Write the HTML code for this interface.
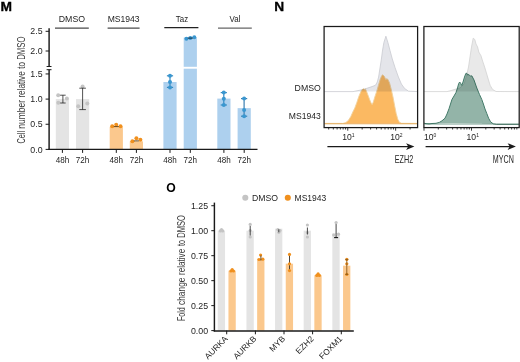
<!DOCTYPE html>
<html lang="en">
<head>
<meta charset="utf-8">
<title>Figure panels M, N, O</title>
<style>
html,body{margin:0;padding:0;background:#fff;}
body{width:520px;height:362px;overflow:hidden;}
svg{display:block;font-family:"Liberation Sans",sans-serif;}
</style>
</head>
<body>
<svg width="520" height="362" viewBox="0 0 520 362">
<rect x="0" y="0" width="520" height="362" fill="#ffffff"/>
<text x="0.5" y="10.7" font-size="12.6" text-anchor="start" fill="#000" textLength="11.5" lengthAdjust="spacingAndGlyphs" font-weight="bold" stroke="#000" stroke-width="0.3">M</text>
<text transform="translate(25.0,0) rotate(-90)" y="0" font-size="10.3" fill="#3a3a3a"><tspan x="-143.6" textLength="12.7" lengthAdjust="spacingAndGlyphs">Cell</tspan> <tspan x="-128.7" textLength="28.7" lengthAdjust="spacingAndGlyphs">number</tspan> <tspan x="-97.6" textLength="26.3" lengthAdjust="spacingAndGlyphs">relative</tspan> <tspan x="-68.7" textLength="6.7" lengthAdjust="spacingAndGlyphs">to</tspan> <tspan x="-59.8" textLength="23.2" lengthAdjust="spacingAndGlyphs">DMSO</tspan></text>
<rect x="55.8" y="99.1" width="13.2" height="50.3" fill="#e4e4e4"/>
<rect x="76.0" y="99.1" width="13.2" height="50.3" fill="#e4e4e4"/>
<rect x="109.7" y="126.77" width="13.2" height="22.63" fill="#fbc88d"/>
<rect x="129.8" y="141.35" width="13.2" height="8.05" fill="#fbc88d"/>
<rect x="163.4" y="82.0" width="13.2" height="67.4" fill="#add0ee"/>
<rect x="183.7" y="37.6" width="13.2" height="111.8" fill="#add0ee"/>
<rect x="217.3" y="98.6" width="13.2" height="50.8" fill="#add0ee"/>
<rect x="237.6" y="108.15" width="13.2" height="41.25" fill="#add0ee"/>
<rect x="183" y="66.8" width="15" height="1.9" fill="#fff"/>
<circle cx="58.2" cy="95.2" r="2.0" fill="#c4c4c4"/>
<circle cx="66.9" cy="98.6" r="2.0" fill="#c4c4c4"/>
<circle cx="58.3" cy="102.8" r="2.0" fill="#c4c4c4"/>
<line x1="62.9" y1="95.2" x2="62.9" y2="103.0" stroke="#1a1a1a" stroke-width="0.75" />
<line x1="60.15" y1="95.2" x2="65.65" y2="95.2" stroke="#1a1a1a" stroke-width="0.75" />
<line x1="60.15" y1="103.0" x2="65.65" y2="103.0" stroke="#1a1a1a" stroke-width="0.75" />
<circle cx="82.6" cy="86.5" r="2.0" fill="#c4c4c4"/>
<circle cx="87.3" cy="103.5" r="2.0" fill="#c4c4c4"/>
<circle cx="78.2" cy="106.3" r="2.0" fill="#c4c4c4"/>
<line x1="82.6" y1="88.2" x2="82.6" y2="109.6" stroke="#1a1a1a" stroke-width="0.75" />
<line x1="79.3" y1="88.2" x2="85.89999999999999" y2="88.2" stroke="#1a1a1a" stroke-width="0.75" />
<line x1="79.3" y1="109.6" x2="85.89999999999999" y2="109.6" stroke="#1a1a1a" stroke-width="0.75" />
<circle cx="112.2" cy="126.2" r="2.0" fill="#f0901e"/>
<circle cx="116.2" cy="124.8" r="2.0" fill="#f0901e"/>
<circle cx="120.5" cy="126.2" r="2.0" fill="#f0901e"/>
<line x1="113.8" y1="126.6" x2="118.8" y2="126.6" stroke="#5a3a10" stroke-width="0.9" />
<circle cx="132.4" cy="141.3" r="2.0" fill="#f0901e"/>
<circle cx="136.4" cy="138.3" r="2.0" fill="#f0901e"/>
<circle cx="140.4" cy="139.8" r="2.0" fill="#f0901e"/>
<line x1="133.9" y1="140.9" x2="138.9" y2="140.9" stroke="#5a3a10" stroke-width="0.9" />
<line x1="170.0" y1="75.8" x2="170.0" y2="87.4" stroke="#3388c0" stroke-width="1.2" />
<line x1="166.9" y1="75.8" x2="173.1" y2="75.8" stroke="#3388c0" stroke-width="1.2" />
<line x1="166.9" y1="87.4" x2="173.1" y2="87.4" stroke="#3388c0" stroke-width="1.2" />
<circle cx="170.0" cy="75.8" r="2.0" fill="#3a97d0"/>
<circle cx="170.0" cy="81.9" r="2.0" fill="#3a97d0"/>
<circle cx="170.0" cy="87.4" r="2.0" fill="#3a97d0"/>
<circle cx="186.4" cy="38.7" r="2.0" fill="#3a97d0"/>
<circle cx="190.3" cy="38.0" r="2.0" fill="#3a97d0"/>
<circle cx="194.3" cy="37.3" r="2.0" fill="#3a97d0"/>
<line x1="187.8" y1="38.1" x2="192.8" y2="38.1" stroke="#123" stroke-width="0.9" />
<line x1="223.8" y1="92.6" x2="223.8" y2="105.0" stroke="#3388c0" stroke-width="1.2" />
<line x1="220.70000000000002" y1="92.6" x2="226.9" y2="92.6" stroke="#3388c0" stroke-width="1.2" />
<line x1="220.70000000000002" y1="105.0" x2="226.9" y2="105.0" stroke="#3388c0" stroke-width="1.2" />
<circle cx="223.8" cy="92.6" r="2.0" fill="#3a97d0"/>
<circle cx="223.8" cy="98.8" r="2.0" fill="#3a97d0"/>
<circle cx="223.8" cy="105.0" r="2.0" fill="#3a97d0"/>
<line x1="244.1" y1="98.6" x2="244.1" y2="116.2" stroke="#3b7fb0" stroke-width="1.2" />
<line x1="241.0" y1="98.6" x2="247.2" y2="98.6" stroke="#3b7fb0" stroke-width="1.2" />
<line x1="241.0" y1="116.2" x2="247.2" y2="116.2" stroke="#3b7fb0" stroke-width="1.2" />
<circle cx="244.1" cy="98.6" r="2.0" fill="#3a97d0"/>
<circle cx="244.1" cy="110.0" r="2.0" fill="#3a97d0"/>
<circle cx="244.1" cy="116.2" r="2.0" fill="#3a97d0"/>
<line x1="49.1" y1="28.2" x2="49.1" y2="66.5" stroke="#1a1a1a" stroke-width="1.45" />
<line x1="49.1" y1="69.7" x2="49.1" y2="150.1" stroke="#1a1a1a" stroke-width="1.45" />
<line x1="46.6" y1="66.5" x2="51.5" y2="66.5" stroke="#1a1a1a" stroke-width="1.0" />
<line x1="46.6" y1="69.7" x2="51.5" y2="69.7" stroke="#1a1a1a" stroke-width="1.0" />
<line x1="48.4" y1="149.4" x2="257.5" y2="149.4" stroke="#1a1a1a" stroke-width="1.4" />
<line x1="45.6" y1="31.3" x2="49.1" y2="31.3" stroke="#1a1a1a" stroke-width="1.0" />
<text x="42.6" y="34.4" font-size="8.8" text-anchor="end" fill="#242424" >2.5</text>
<line x1="45.6" y1="51.0" x2="49.1" y2="51.0" stroke="#1a1a1a" stroke-width="1.0" />
<text x="42.6" y="54.1" font-size="8.8" text-anchor="end" fill="#242424" >2.0</text>
<line x1="45.6" y1="73.95" x2="49.1" y2="73.95" stroke="#1a1a1a" stroke-width="1.0" />
<text x="42.6" y="77.05" font-size="8.8" text-anchor="end" fill="#242424" >1.5</text>
<line x1="45.6" y1="99.1" x2="49.1" y2="99.1" stroke="#1a1a1a" stroke-width="1.0" />
<text x="42.6" y="102.2" font-size="8.8" text-anchor="end" fill="#242424" >1.0</text>
<line x1="45.6" y1="124.25" x2="49.1" y2="124.25" stroke="#1a1a1a" stroke-width="1.0" />
<text x="42.6" y="127.35" font-size="8.8" text-anchor="end" fill="#242424" >0.5</text>
<line x1="45.6" y1="149.4" x2="49.1" y2="149.4" stroke="#1a1a1a" stroke-width="1.0" />
<text x="42.6" y="152.5" font-size="8.8" text-anchor="end" fill="#242424" >0.0</text>
<line x1="62.4" y1="149.4" x2="62.4" y2="152.9" stroke="#1a1a1a" stroke-width="1.0" />
<line x1="82.6" y1="149.4" x2="82.6" y2="152.9" stroke="#1a1a1a" stroke-width="1.0" />
<line x1="116.3" y1="149.4" x2="116.3" y2="152.9" stroke="#1a1a1a" stroke-width="1.0" />
<line x1="136.4" y1="149.4" x2="136.4" y2="152.9" stroke="#1a1a1a" stroke-width="1.0" />
<line x1="170.0" y1="149.4" x2="170.0" y2="152.9" stroke="#1a1a1a" stroke-width="1.0" />
<line x1="190.3" y1="149.4" x2="190.3" y2="152.9" stroke="#1a1a1a" stroke-width="1.0" />
<line x1="223.9" y1="149.4" x2="223.9" y2="152.9" stroke="#1a1a1a" stroke-width="1.0" />
<line x1="244.2" y1="149.4" x2="244.2" y2="152.9" stroke="#1a1a1a" stroke-width="1.0" />
<text x="62.4" y="163.2" font-size="8.8" text-anchor="middle" fill="#242424" textLength="13.5" lengthAdjust="spacingAndGlyphs" >48h</text>
<text x="82.6" y="163.2" font-size="8.8" text-anchor="middle" fill="#242424" textLength="13.5" lengthAdjust="spacingAndGlyphs" >72h</text>
<text x="116.3" y="163.2" font-size="8.8" text-anchor="middle" fill="#242424" textLength="13.5" lengthAdjust="spacingAndGlyphs" >48h</text>
<text x="136.4" y="163.2" font-size="8.8" text-anchor="middle" fill="#242424" textLength="13.5" lengthAdjust="spacingAndGlyphs" >72h</text>
<text x="170.0" y="163.2" font-size="8.8" text-anchor="middle" fill="#242424" textLength="13.5" lengthAdjust="spacingAndGlyphs" >48h</text>
<text x="190.3" y="163.2" font-size="8.8" text-anchor="middle" fill="#242424" textLength="13.5" lengthAdjust="spacingAndGlyphs" >72h</text>
<text x="223.9" y="163.2" font-size="8.8" text-anchor="middle" fill="#242424" textLength="13.5" lengthAdjust="spacingAndGlyphs" >48h</text>
<text x="244.2" y="163.2" font-size="8.8" text-anchor="middle" fill="#242424" textLength="13.5" lengthAdjust="spacingAndGlyphs" >72h</text>
<line x1="55" y1="28.1" x2="88.8" y2="28.1" stroke="#4a4a4a" stroke-width="1.4" />
<text x="71.9" y="22.1" font-size="9.0" text-anchor="middle" fill="#242424" textLength="26.3" lengthAdjust="spacingAndGlyphs" >DMSO</text>
<line x1="107.6" y1="28.1" x2="139.6" y2="28.1" stroke="#4a4a4a" stroke-width="1.4" />
<text x="123.6" y="22.1" font-size="9.0" text-anchor="middle" fill="#242424" textLength="31.9" lengthAdjust="spacingAndGlyphs" >MS1943</text>
<line x1="164.3" y1="27.6" x2="198.4" y2="27.6" stroke="#222222" stroke-width="1.05" />
<text x="181.95" y="22.1" font-size="9.0" text-anchor="middle" fill="#242424" textLength="12.3" lengthAdjust="spacingAndGlyphs" >Taz</text>
<line x1="218" y1="28.1" x2="251.8" y2="28.1" stroke="#666666" stroke-width="1.4" />
<text x="234.9" y="22.1" font-size="9.0" text-anchor="middle" fill="#242424" textLength="10.9" lengthAdjust="spacingAndGlyphs" >Val</text>
<text x="274.3" y="10.7" font-size="12.6" text-anchor="start" fill="#000" textLength="9.9" lengthAdjust="spacingAndGlyphs" font-weight="bold" stroke="#000" stroke-width="0.3">N</text>
<clipPath id="c1"><rect x="324.1" y="26.5" width="93.5" height="101.1"/></clipPath>
<clipPath id="c2"><rect x="423.9" y="26.5" width="95.30000000000007" height="101.1"/></clipPath>
<path d="M324.1,91.6 L353,91.6 L360,90.2 L366,88.6 L372,86.6 L375.5,85.2 L377.3,82 L378.6,77 L380,68 L381.4,59 L382.6,50 L383.9,42.5 L385.9,36.2 L387.9,42.5 L390,50.5 L392.3,59 L395,67.5 L398.4,77 L401.4,84 L404.5,88.4 L408.5,91.2 L417.7,91.6" fill="#e4e5ea" stroke="#c9cad1" stroke-width="0.8" stroke-linejoin="round" fill-opacity="1.0" clip-path="url(#c1)"/>
<path d="M324.1,123.4 L342.8,123.4 L345.8,122.6 L348.3,120.5 L350.8,116.5 L352.8,112 L354.8,108 L356.8,102.5 L358.8,96.5 L360.8,91.8 L362.3,89.5 L363.4,88.7 L364.4,89.6 L365.4,88.9 L366.8,92 L368.3,96 L369.8,100 L371.1,103 L372.1,104.5 L373.3,102 L374.8,97 L376.8,91 L378.8,84 L380.3,79 L381.8,75.6 L382.8,74.8 L384.3,76.3 L385.8,79.6 L387.0,78.6 L388.1,79.8 L389.6,83 L391.4,90 L393.0,97 L394.6,105.5 L396.2,113.5 L397.8,119.3 L399.4,122.3 L401.6,123.3 L417.7,123.4" fill="#fbb962" stroke="#f1d29f" stroke-width="0.9" stroke-linejoin="round" fill-opacity="1.0" clip-path="url(#c1)" style="mix-blend-mode:multiply"/>
<path d="M423.9,91.6 L447,91.6 L451,90.6 L455,89.3 L460,88 L464,84 L466.5,76 L468.5,67 L470,57 L471.5,47 L473.2,38.2 L474.8,39.5 L476.0,44 L477.6,47 L478.8,52 L481,55.8 L482.6,61 L484.3,66 L486.2,72.2 L488.2,79 L490.2,85.4 L492.5,89.4 L496,91.5 L519.2,91.6" fill="#e9e9e9" stroke="#d2d2d2" stroke-width="0.8" stroke-linejoin="round" fill-opacity="1.0" clip-path="url(#c2)"/>
<path d="M423.9,123.2 L426,123.6 L429,123.9 L432,123.5 L436,123.3 L439.3,122.4 L442,120.8 L445,118.2 L447,114 L449,108.7 L450.5,104 L452,99.3 L454,96 L456,92.5 L457.5,88 L458.7,83.5 L459.7,82 L460.8,83.5 L461.8,85.5 L463,82 L464.5,77 L465.6,74 L466.5,72.9 L467.6,75 L469,74.6 L470.5,76.2 L471.8,75.8 L474,80 L476.8,88 L479.5,94.5 L481.8,99.5 L483.4,104 L485,109 L486.8,113.5 L488.6,118.2 L490.6,121.8 L493.2,123.8 L496.5,124.2 L519.2,124.2" fill="#93b4a8" stroke="#437a69" stroke-width="1.0" stroke-linejoin="round" fill-opacity="1.0" clip-path="url(#c2)" style="mix-blend-mode:multiply"/>
<line x1="324.7" y1="123.7" x2="417.0" y2="123.7" stroke="#f2d6a6" stroke-width="1.5" style="mix-blend-mode:multiply"/>
<line x1="424.5" y1="124.3" x2="518.6" y2="124.3" stroke="#a9c4ba" stroke-width="1.0" style="mix-blend-mode:multiply"/>
<rect x="324.1" y="26.5" width="93.5" height="101.1" fill="none" stroke="#1a1a1a" stroke-width="1.25"/>
<rect x="423.9" y="26.5" width="95.3" height="101.1" fill="none" stroke="#1a1a1a" stroke-width="1.25"/>
<line x1="328.69" y1="127.6" x2="328.69" y2="129.5" stroke="#1a1a1a" stroke-width="0.85" />
<line x1="333.33" y1="127.6" x2="333.33" y2="129.5" stroke="#1a1a1a" stroke-width="0.85" />
<line x1="337.12" y1="127.6" x2="337.12" y2="129.5" stroke="#1a1a1a" stroke-width="0.85" />
<line x1="340.33" y1="127.6" x2="340.33" y2="129.5" stroke="#1a1a1a" stroke-width="0.85" />
<line x1="343.11" y1="127.6" x2="343.11" y2="129.5" stroke="#1a1a1a" stroke-width="0.85" />
<line x1="345.56" y1="127.6" x2="345.56" y2="129.5" stroke="#1a1a1a" stroke-width="0.85" />
<line x1="347.75" y1="127.6" x2="347.75" y2="130.7" stroke="#1a1a1a" stroke-width="0.85" />
<line x1="362.17" y1="127.6" x2="362.17" y2="129.5" stroke="#1a1a1a" stroke-width="0.85" />
<line x1="370.6" y1="127.6" x2="370.6" y2="129.5" stroke="#1a1a1a" stroke-width="0.85" />
<line x1="376.59" y1="127.6" x2="376.59" y2="129.5" stroke="#1a1a1a" stroke-width="0.85" />
<line x1="381.23" y1="127.6" x2="381.23" y2="129.5" stroke="#1a1a1a" stroke-width="0.85" />
<line x1="385.02" y1="127.6" x2="385.02" y2="129.5" stroke="#1a1a1a" stroke-width="0.85" />
<line x1="388.23" y1="127.6" x2="388.23" y2="129.5" stroke="#1a1a1a" stroke-width="0.85" />
<line x1="391.01" y1="127.6" x2="391.01" y2="129.5" stroke="#1a1a1a" stroke-width="0.85" />
<line x1="393.46" y1="127.6" x2="393.46" y2="129.5" stroke="#1a1a1a" stroke-width="0.85" />
<line x1="395.65" y1="127.6" x2="395.65" y2="130.7" stroke="#1a1a1a" stroke-width="0.85" />
<line x1="410.07" y1="127.6" x2="410.07" y2="129.5" stroke="#1a1a1a" stroke-width="0.85" />
<line x1="424.0" y1="127.6" x2="424.0" y2="130.7" stroke="#1a1a1a" stroke-width="0.85" />
<line x1="438.3" y1="127.6" x2="438.3" y2="129.5" stroke="#1a1a1a" stroke-width="0.85" />
<line x1="446.66" y1="127.6" x2="446.66" y2="129.5" stroke="#1a1a1a" stroke-width="0.85" />
<line x1="452.6" y1="127.6" x2="452.6" y2="129.5" stroke="#1a1a1a" stroke-width="0.85" />
<line x1="457.2" y1="127.6" x2="457.2" y2="129.5" stroke="#1a1a1a" stroke-width="0.85" />
<line x1="460.96" y1="127.6" x2="460.96" y2="129.5" stroke="#1a1a1a" stroke-width="0.85" />
<line x1="464.14" y1="127.6" x2="464.14" y2="129.5" stroke="#1a1a1a" stroke-width="0.85" />
<line x1="466.9" y1="127.6" x2="466.9" y2="129.5" stroke="#1a1a1a" stroke-width="0.85" />
<line x1="469.33" y1="127.6" x2="469.33" y2="129.5" stroke="#1a1a1a" stroke-width="0.85" />
<line x1="471.5" y1="127.6" x2="471.5" y2="130.7" stroke="#1a1a1a" stroke-width="0.85" />
<line x1="485.8" y1="127.6" x2="485.8" y2="129.5" stroke="#1a1a1a" stroke-width="0.85" />
<line x1="494.16" y1="127.6" x2="494.16" y2="129.5" stroke="#1a1a1a" stroke-width="0.85" />
<line x1="500.1" y1="127.6" x2="500.1" y2="129.5" stroke="#1a1a1a" stroke-width="0.85" />
<line x1="504.7" y1="127.6" x2="504.7" y2="129.5" stroke="#1a1a1a" stroke-width="0.85" />
<line x1="508.46" y1="127.6" x2="508.46" y2="129.5" stroke="#1a1a1a" stroke-width="0.85" />
<line x1="511.64" y1="127.6" x2="511.64" y2="129.5" stroke="#1a1a1a" stroke-width="0.85" />
<line x1="514.4" y1="127.6" x2="514.4" y2="129.5" stroke="#1a1a1a" stroke-width="0.85" />
<line x1="516.83" y1="127.6" x2="516.83" y2="129.5" stroke="#1a1a1a" stroke-width="0.85" />
<text x="342.3" y="140.4" font-size="8.6" fill="#242424">10<tspan font-size="5" dy="-3.3">1</tspan></text>
<text x="390.3" y="140.4" font-size="8.6" fill="#242424">10<tspan font-size="5" dy="-3.3">2</tspan></text>
<text x="424.0" y="140.4" font-size="8.6" fill="#242424">10<tspan font-size="5" dy="-3.3">0</tspan></text>
<text x="466.6" y="140.4" font-size="8.6" fill="#242424">10<tspan font-size="5" dy="-3.3">1</tspan></text>
<text x="320.8" y="91.4" font-size="9.0" text-anchor="end" fill="#242424" textLength="26.2" lengthAdjust="spacingAndGlyphs" >DMSO</text>
<text x="320.8" y="119.4" font-size="9.0" text-anchor="end" fill="#242424" textLength="32.0" lengthAdjust="spacingAndGlyphs" >MS1943</text>
<line x1="327.4" y1="146.6" x2="410.4" y2="146.6" stroke="#1a1a1a" stroke-width="1.1" />
<path d="M414.4,146.6 L406.09999999999997,143.2 L408.2,146.6 L406.09999999999997,150.0 Z" fill="#1a1a1a"/>
<line x1="425.6" y1="146.6" x2="511.9" y2="146.6" stroke="#1a1a1a" stroke-width="1.1" />
<path d="M515.9,146.6 L507.59999999999997,143.2 L509.7,146.6 L507.59999999999997,150.0 Z" fill="#1a1a1a"/>
<text x="413.2" y="162.6" font-size="10.4" text-anchor="end" fill="#242424" textLength="18.4" lengthAdjust="spacingAndGlyphs" >EZH2</text>
<text x="513.8" y="162.6" font-size="10.4" text-anchor="end" fill="#242424" textLength="21" lengthAdjust="spacingAndGlyphs" >MYCN</text>
<text x="166.2" y="191.9" font-size="12.6" text-anchor="start" fill="#000" textLength="9.5" lengthAdjust="spacingAndGlyphs" font-weight="bold" >O</text>
<circle cx="245.3" cy="197.8" r="3.05" fill="#c4c4c4"/>
<text x="252.0" y="200.7" font-size="8.7" text-anchor="start" fill="#242424" textLength="26" lengthAdjust="spacingAndGlyphs" >DMSO</text>
<circle cx="287.8" cy="197.8" r="3.05" fill="#f0901e"/>
<text x="294.6" y="200.7" font-size="8.7" text-anchor="start" fill="#242424" textLength="31.6" lengthAdjust="spacingAndGlyphs" >MS1943</text>
<text transform="translate(185.0,0) rotate(-90)" y="0" font-size="10.3" fill="#3a3a3a"><tspan x="-321.0" textLength="13.8" lengthAdjust="spacingAndGlyphs">Fold</tspan> <tspan x="-305.0" textLength="27.5" lengthAdjust="spacingAndGlyphs">change</tspan> <tspan x="-275.0" textLength="26.2" lengthAdjust="spacingAndGlyphs">relative</tspan> <tspan x="-246.1" textLength="6.1" lengthAdjust="spacingAndGlyphs">to</tspan> <tspan x="-237.8" textLength="22.6" lengthAdjust="spacingAndGlyphs">DMSO</tspan></text>
<rect x="217.75" y="230.7" width="7.3" height="99.9" fill="#e4e4e4"/>
<rect x="228.45" y="270.66" width="7.3" height="59.94" fill="#fbc88d"/>
<rect x="246.45" y="230.7" width="7.3" height="99.9" fill="#e4e4e4"/>
<rect x="257.15" y="258.67" width="7.3" height="71.93" fill="#fbc88d"/>
<rect x="275.05" y="228.7" width="7.3" height="101.9" fill="#e4e4e4"/>
<rect x="285.75" y="263.67" width="7.3" height="66.93" fill="#fbc88d"/>
<rect x="303.65" y="230.7" width="7.3" height="99.9" fill="#e4e4e4"/>
<rect x="314.35" y="275.16" width="7.3" height="55.44" fill="#fbc88d"/>
<rect x="332.35" y="233.2" width="7.3" height="97.4" fill="#e4e4e4"/>
<rect x="343.05" y="265.67" width="7.3" height="64.94" fill="#fbc88d"/>
<circle cx="221.5" cy="229.6" r="1.6" fill="#c4c4c4"/>
<circle cx="220.3" cy="230.9" r="1.6" fill="#c4c4c4"/>
<circle cx="222.7" cy="230.9" r="1.6" fill="#c4c4c4"/>
<circle cx="250.20000000000002" cy="224.4" r="1.6" fill="#c4c4c4"/>
<circle cx="250.20000000000002" cy="230.5" r="1.6" fill="#c4c4c4"/>
<circle cx="250.20000000000002" cy="237.0" r="1.6" fill="#c4c4c4"/>
<line x1="250.20000000000002" y1="226.0" x2="250.20000000000002" y2="235.5" stroke="#333" stroke-width="0.9" />
<line x1="250.20000000000002" y1="226.0" x2="250.20000000000002" y2="226.0" stroke="#333" stroke-width="0.9" />
<line x1="250.20000000000002" y1="235.5" x2="250.20000000000002" y2="235.5" stroke="#333" stroke-width="0.9" />
<circle cx="277.8" cy="229.5" r="1.6" fill="#c4c4c4"/>
<circle cx="280.0" cy="230.5" r="1.6" fill="#c4c4c4"/>
<circle cx="278.8" cy="232.3" r="1.6" fill="#c4c4c4"/>
<line x1="278.8" y1="229.3" x2="278.8" y2="232.3" stroke="#333" stroke-width="0.9" />
<line x1="278.8" y1="229.3" x2="278.8" y2="229.3" stroke="#333" stroke-width="0.9" />
<line x1="278.8" y1="232.3" x2="278.8" y2="232.3" stroke="#333" stroke-width="0.9" />
<circle cx="307.40000000000003" cy="225.0" r="1.6" fill="#c4c4c4"/>
<circle cx="307.40000000000003" cy="232.6" r="1.6" fill="#c4c4c4"/>
<circle cx="307.40000000000003" cy="237.0" r="1.6" fill="#c4c4c4"/>
<line x1="307.40000000000003" y1="227.5" x2="307.40000000000003" y2="234.5" stroke="#333" stroke-width="0.9" />
<line x1="307.40000000000003" y1="227.5" x2="307.40000000000003" y2="227.5" stroke="#333" stroke-width="0.9" />
<line x1="307.40000000000003" y1="234.5" x2="307.40000000000003" y2="234.5" stroke="#333" stroke-width="0.9" />
<line x1="336.1" y1="223.5" x2="336.1" y2="237.6" stroke="#444" stroke-width="1.0" />
<line x1="334.1" y1="237.6" x2="338.1" y2="237.6" stroke="#111" stroke-width="1.1" />
<circle cx="336.1" cy="222.6" r="1.6" fill="#c4c4c4"/>
<circle cx="333.70000000000005" cy="235.0" r="1.6" fill="#c4c4c4"/>
<circle cx="338.5" cy="234.2" r="1.6" fill="#c4c4c4"/>
<circle cx="232.2" cy="269.6" r="1.6" fill="#f0901e"/>
<circle cx="230.89999999999998" cy="271.0" r="1.6" fill="#f0901e"/>
<circle cx="233.5" cy="271.0" r="1.6" fill="#f0901e"/>
<circle cx="260.59999999999997" cy="255.0" r="1.6" fill="#f0901e"/>
<circle cx="259.0" cy="259.5" r="1.6" fill="#f0901e"/>
<circle cx="262.79999999999995" cy="259.2" r="1.6" fill="#f0901e"/>
<line x1="260.9" y1="255.5" x2="260.9" y2="260.5" stroke="#5a3a10" stroke-width="0.9" />
<line x1="260.9" y1="255.5" x2="260.9" y2="255.5" stroke="#5a3a10" stroke-width="0.9" />
<line x1="260.9" y1="260.5" x2="260.9" y2="260.5" stroke="#5a3a10" stroke-width="0.9" />
<line x1="289.5" y1="254.6" x2="289.5" y2="270.4" stroke="#3a3020" stroke-width="0.9" />
<line x1="289.5" y1="254.6" x2="289.5" y2="254.6" stroke="#3a3020" stroke-width="0.9" />
<line x1="289.5" y1="270.4" x2="289.5" y2="270.4" stroke="#3a3020" stroke-width="0.9" />
<circle cx="289.5" cy="254.4" r="1.6" fill="#f0901e"/>
<circle cx="289.5" cy="263.8" r="1.6" fill="#f0901e"/>
<circle cx="289.5" cy="270.6" r="1.6" fill="#f0901e"/>
<circle cx="318.1" cy="273.9" r="1.6" fill="#f0901e"/>
<circle cx="316.8" cy="275.4" r="1.6" fill="#f0901e"/>
<circle cx="319.40000000000003" cy="275.4" r="1.6" fill="#f0901e"/>
<circle cx="346.8" cy="259.4" r="1.6" fill="#f0901e"/>
<circle cx="346.8" cy="263.8" r="1.6" fill="#f0901e"/>
<circle cx="346.8" cy="274.4" r="1.6" fill="#f0901e"/>
<line x1="346.8" y1="259.4" x2="346.8" y2="274.4" stroke="#8a5a1a" stroke-width="0.9" />
<line x1="345.3" y1="259.4" x2="348.3" y2="259.4" stroke="#8a5a1a" stroke-width="0.9" />
<line x1="345.3" y1="274.4" x2="348.3" y2="274.4" stroke="#8a5a1a" stroke-width="0.9" />
<line x1="214.4" y1="202.6" x2="214.4" y2="331.40000000000003" stroke="#1a1a1a" stroke-width="1.45" />
<line x1="213.7" y1="331.0" x2="353.8" y2="331.0" stroke="#1a1a1a" stroke-width="1.45" />
<line x1="211.3" y1="205.73" x2="214.4" y2="205.73" stroke="#1a1a1a" stroke-width="1.0" />
<text x="208.1" y="208.63" font-size="8.8" text-anchor="end" fill="#242424" >1.25</text>
<line x1="211.3" y1="230.7" x2="214.4" y2="230.7" stroke="#1a1a1a" stroke-width="1.0" />
<text x="208.1" y="233.6" font-size="8.8" text-anchor="end" fill="#242424" >1.00</text>
<line x1="211.3" y1="255.68" x2="214.4" y2="255.68" stroke="#1a1a1a" stroke-width="1.0" />
<text x="208.1" y="258.58" font-size="8.8" text-anchor="end" fill="#242424" >0.75</text>
<line x1="211.3" y1="280.65" x2="214.4" y2="280.65" stroke="#1a1a1a" stroke-width="1.0" />
<text x="208.1" y="283.55" font-size="8.8" text-anchor="end" fill="#242424" >0.50</text>
<line x1="211.3" y1="305.62" x2="214.4" y2="305.62" stroke="#1a1a1a" stroke-width="1.0" />
<text x="208.1" y="308.52" font-size="8.8" text-anchor="end" fill="#242424" >0.25</text>
<line x1="211.3" y1="330.6" x2="214.4" y2="330.6" stroke="#1a1a1a" stroke-width="1.0" />
<text x="208.1" y="333.5" font-size="8.8" text-anchor="end" fill="#242424" >0.00</text>
<line x1="226.7" y1="330.6" x2="226.7" y2="334.3" stroke="#1a1a1a" stroke-width="1.0" />
<text transform="translate(228.29999999999998,339.4) rotate(-45)" font-size="8.35" text-anchor="end" fill="#242424">AURKA</text>
<line x1="255.4" y1="330.6" x2="255.4" y2="334.3" stroke="#1a1a1a" stroke-width="1.0" />
<text transform="translate(257.0,339.4) rotate(-45)" font-size="8.35" text-anchor="end" fill="#242424">AURKB</text>
<line x1="284.0" y1="330.6" x2="284.0" y2="334.3" stroke="#1a1a1a" stroke-width="1.0" />
<text transform="translate(285.6,339.4) rotate(-45)" font-size="8.35" text-anchor="end" fill="#242424">MYB</text>
<line x1="312.6" y1="330.6" x2="312.6" y2="334.3" stroke="#1a1a1a" stroke-width="1.0" />
<text transform="translate(314.20000000000005,339.4) rotate(-45)" font-size="8.35" text-anchor="end" fill="#242424">EZH2</text>
<line x1="341.3" y1="330.6" x2="341.3" y2="334.3" stroke="#1a1a1a" stroke-width="1.0" />
<text transform="translate(342.90000000000003,339.4) rotate(-45)" font-size="8.35" text-anchor="end" fill="#242424">FOXM1</text>
</svg>
</body>
</html>
